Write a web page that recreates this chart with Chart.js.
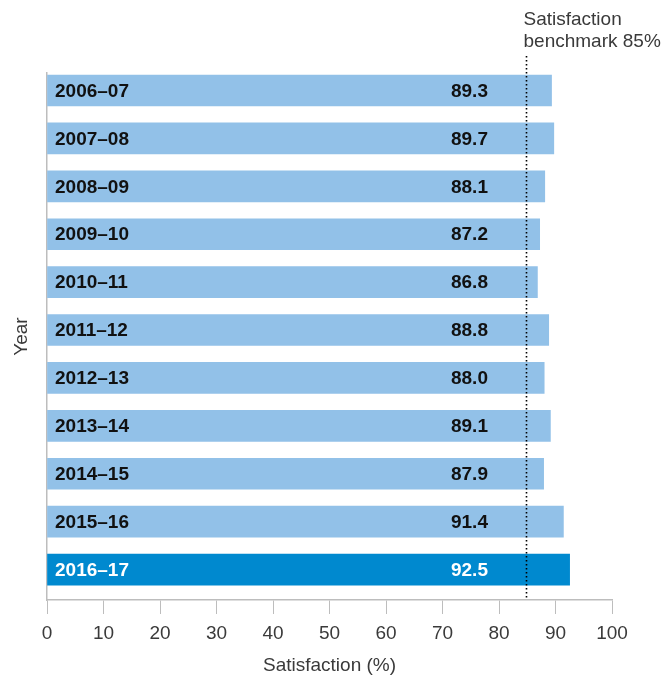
<!DOCTYPE html>
<html>
<head>
<meta charset="utf-8">
<script src="https://cdn.jsdelivr.net/npm/chart.js@4.4.1/dist/chart.umd.min.js"></script>
<style>
  html, body { margin: 0; padding: 0; background: #fff; }
  #wrap { width: 670px; height: 682px; position: relative; }
</style>
</head>
<body>
<div id="wrap"><canvas id="chart"></canvas></div>
<script>
// Data
const years = ['2006–07', '2007–08', '2008–09', '2009–10', '2010–11', '2011–12',
               '2012–13', '2013–14', '2014–15', '2015–16', '2016–17'];
const satisfaction = [89.3, 89.7, 88.1, 87.2, 86.8, 88.8, 88.0, 89.1, 87.9, 91.4, 92.5];
const benchmark = 85;
const benchmarkText = ['Satisfaction', 'benchmark 85%'];
const xTicks = [0, 10, 20, 30, 40, 50, 60, 70, 80, 90, 100];

const lightBlue = '#92c1e8';
const darkBlue = '#0089cf';
const axisGrey = '#bdbdbd';
const textGrey = '#3a3a3a';
const FONT = '"Liberation Sans", Arial, sans-serif';

// Year label inside each bar + value label
const barLabels = {
    id: 'barLabels',
    afterDatasetsDraw(chart) {
        const ctx = chart.ctx;
        const xScale = chart.scales.x;
        const bars = chart.getDatasetMeta(0).data;
        ctx.save();
        ctx.font = 'bold 19px ' + FONT;
        ctx.textBaseline = 'middle';
        bars.forEach((bar, i) => {
            ctx.fillStyle = i === years.length - 1 ? '#ffffff' : '#111111';
            ctx.textAlign = 'left';
            ctx.fillText(years[i], chart.chartArea.left + 8, bar.y + 1);
            ctx.fillText(satisfaction[i].toFixed(1), xScale.getPixelForValue(71.5), bar.y + 1);
        });
        ctx.restore();
    }
};

// Dotted benchmark line with its note
const benchmarkLine = {
    id: 'benchmarkLine',
    afterDatasetsDraw(chart) {
        const ctx = chart.ctx;
        const x = Math.round(chart.scales.x.getPixelForValue(benchmark)) - 0.5;
        ctx.save();
        ctx.strokeStyle = '#000';
        ctx.lineWidth = 1.6;
        ctx.setLineDash([1.6, 2.4]);
        ctx.beginPath();
        ctx.moveTo(x, 56);
        ctx.lineTo(x, chart.chartArea.bottom);
        ctx.stroke();
        ctx.setLineDash([]);
        ctx.fillStyle = textGrey;
        ctx.font = '19px ' + FONT;
        ctx.textAlign = 'left';
        ctx.textBaseline = 'middle';
        ctx.fillText(benchmarkText[0], x - 3, 20);
        ctx.fillText(benchmarkText[1], x - 3, 42);
        ctx.restore();
    }
};

new Chart(document.getElementById('chart'), {
    type: 'bar',
    data: {
        datasets: [{
            data: satisfaction.map((v, i) => ({ x: v, y: i })),
            backgroundColor: satisfaction.map((v, i) => i === years.length - 1 ? darkBlue : lightBlue),
            borderWidth: 0,
            barThickness: 31
        }]
    },
    options: {
        indexAxis: 'y',
        responsive: true,
        maintainAspectRatio: false,
        animation: false,
        layout: { padding: { top: 73, right: 58, left: 0, bottom: 0 } },
        plugins: {
            legend: { display: false },
            tooltip: { enabled: false }
        },
        scales: {
            x: {
                type: 'linear',
                min: 0,
                max: 100,
                afterBuildTicks: (scale) => { scale.ticks = xTicks.map(v => ({ value: v })); },
                afterFit: (scale) => { scale.height = 82; },
                grid: { drawOnChartArea: false, drawTicks: true, tickLength: 14, color: axisGrey },
                border: { color: axisGrey, width: 1.5 },
                ticks: { color: textGrey, font: { family: FONT, size: 19 }, padding: 8 },
                title: {
                    display: true,
                    text: 'Satisfaction (%)',
                    color: textGrey,
                    font: { family: FONT, size: 19 },
                    padding: { top: 0, bottom: 5 }
                }
            },
            y: {
                type: 'linear',
                reverse: true,
                offset: false,
                min: -0.365,
                max: 10.635,
                afterFit: (scale) => { scale.width = 47; },
                grid: { drawOnChartArea: false, drawTicks: false, color: axisGrey },
                border: { color: axisGrey, width: 1.5 },
                ticks: { display: false },
                title: {
                    display: true,
                    text: 'Year',
                    color: textGrey,
                    font: { family: FONT, size: 19 },
                    padding: { top: 10, bottom: 0 }
                }
            }
        }
    },
    plugins: [barLabels, benchmarkLine]
});
</script>
</body>
</html>
